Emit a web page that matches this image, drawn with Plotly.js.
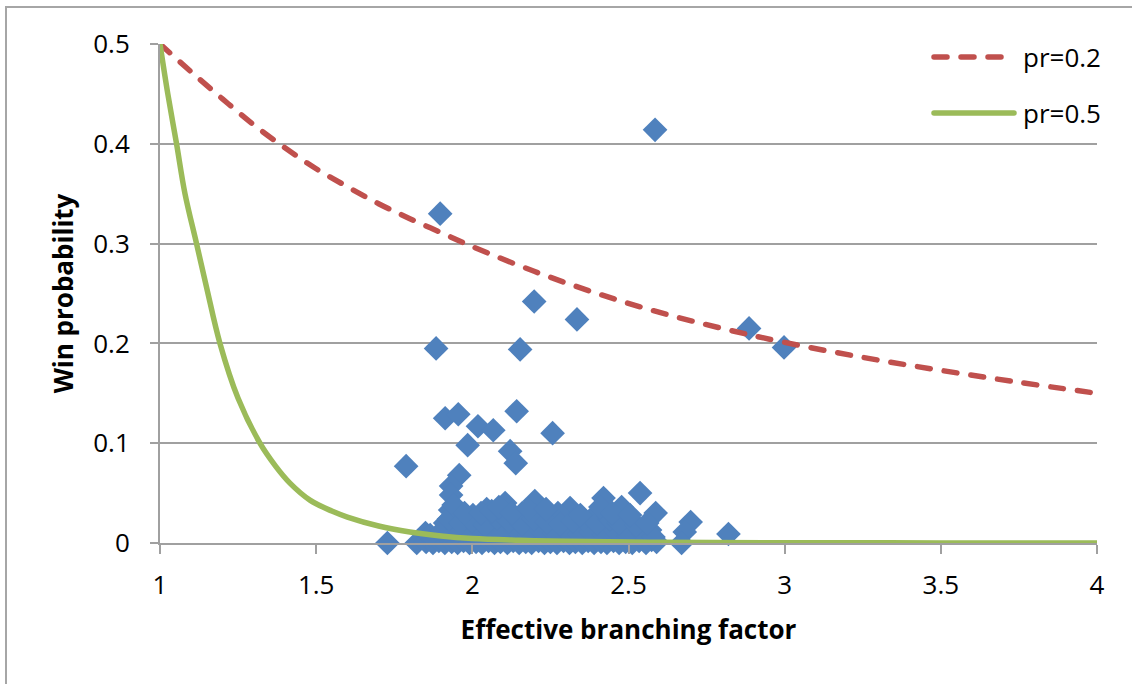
<!DOCTYPE html>
<html>
<head>
<meta charset="utf-8">
<script src="https://cdn.plot.ly/plotly-3.0.1.min.js"></script>
<style>
  html, body { margin: 0; padding: 0; background: #fff; }
  #wrap { position: relative; width: 1132px; height: 684px; overflow: hidden; }
  #frame { position: absolute; left: 5px; top: 6px; width: 1200px; height: 800px;
           border: 2px solid #a6a6a6; box-sizing: border-box; pointer-events: none; }
  #chart { position: absolute; left: 0; top: 0; width: 1132px; height: 684px; }
  .scatterlayer .js-line, .shapelayer path { stroke-linecap: round; }
</style>
</head>
<body>
<div id="wrap">
  <div id="chart"></div>
  <div id="frame"></div>
</div>
<script>
// Observed games: effective branching factor vs. win probability
const branching = [
  2.585, 1.897, 1.884, 2.198, 2.335, 2.886, 2.998, 2.153,
  1.913, 1.955, 2.142, 2.018, 2.067, 2.257, 1.985, 2.121, 2.139, 1.788,
  1.958, 1.932, 1.932, 1.929, 1.913,
  2.537, 2.420, 2.313, 2.478, 2.587, 2.699, 2.680, 2.820, 2.670,
  2.387, 2.366, 2.505, 2.569, 2.574, 2.105, 2.200, 2.306, 2.046, 2.002, 2.274, 2.160,
  1.728, 1.822, 1.852, 1.874, 1.893, 1.912, 1.934, 1.953, 1.972, 1.991,
  2.012, 2.031, 2.052, 2.071, 2.090, 2.112, 2.131, 2.150, 2.171, 2.190,
  2.212, 2.231, 2.250, 2.271, 2.292, 2.311, 2.330, 2.352, 2.371, 2.390,
  2.412, 2.431, 2.452, 2.470, 2.491, 2.512, 2.534, 2.556, 2.590,
  1.850, 1.865, 1.902, 1.944, 1.981, 2.021, 2.060, 2.098, 2.140, 2.180, 2.221,
  2.260, 2.300, 2.340, 2.380, 2.420, 2.460, 2.500, 2.545, 2.580,
  1.925, 1.962, 2.000, 2.040, 2.080, 2.118, 2.158, 2.198, 2.238, 2.282,
  2.322, 2.356, 2.400, 2.440, 2.470, 2.525, 2.560,
  1.940, 1.975, 2.028, 2.062, 2.085, 2.126, 2.180, 2.236, 2.346, 2.410, 2.448, 2.505
];
const winProb = [
  0.414, 0.330, 0.195, 0.242, 0.224, 0.215, 0.196, 0.194,
  0.125, 0.129, 0.132, 0.117, 0.113, 0.110, 0.098, 0.092, 0.080, 0.077,
  0.068, 0.057, 0.048, 0.033, 0.020,
  0.050, 0.045, 0.035, 0.036, 0.030, 0.021, 0.011, 0.009, 0.000,
  0.026, 0.016, 0.016, 0.013, 0.003, 0.040, 0.042, 0.031, 0.034, 0.028, 0.030, 0.030,
  0.000, 0.000, 0.001, 0.000, 0.002, 0.000, 0.001, 0.000, 0.002, 0.000,
  0.001, 0.000, 0.002, 0.000, 0.001, 0.000, 0.002, 0.000, 0.001, 0.000,
  0.002, 0.000, 0.001, 0.000, 0.002, 0.000, 0.001, 0.000, 0.002, 0.000,
  0.001, 0.000, 0.002, 0.000, 0.001, 0.000, 0.002, 0.000, 0.001,
  0.010, 0.008, 0.012, 0.010, 0.014, 0.008, 0.012, 0.009, 0.013, 0.008, 0.012,
  0.010, 0.013, 0.009, 0.011, 0.008, 0.012, 0.007, 0.009, 0.006,
  0.024, 0.020, 0.022, 0.018, 0.025, 0.022, 0.019, 0.024, 0.021, 0.019,
  0.022, 0.024, 0.020, 0.024, 0.020, 0.018, 0.020,
  0.038, 0.030, 0.030, 0.032, 0.036, 0.030, 0.034, 0.034, 0.028, 0.036, 0.030, 0.028
];

// Model curves for two values of pr
const curveB02 = [1.0, 1.1, 1.2, 1.3, 1.4, 1.5, 1.6, 1.7, 1.8, 1.9, 2.0, 2.2, 2.4, 2.6, 2.8, 3.0, 3.25, 3.5, 3.75, 4.0];
const curveP02 = [0.500, 0.472, 0.445, 0.419, 0.396, 0.375, 0.357, 0.340, 0.325, 0.311, 0.297, 0.272, 0.250, 0.231, 0.215, 0.201, 0.186, 0.173, 0.161, 0.150];

const curveB05 = [1.0, 1.025, 1.053, 1.08, 1.117, 1.15, 1.192, 1.25, 1.32, 1.37, 1.416, 1.48, 1.55, 1.6, 1.7, 1.8, 1.9, 2.0, 2.15, 2.3, 2.6, 3.0, 3.5, 4.0];
const curveP05 = [0.500, 0.450, 0.400, 0.350, 0.300, 0.255, 0.200, 0.145, 0.100, 0.077, 0.060, 0.043, 0.032, 0.026, 0.017, 0.011, 0.007, 0.0045, 0.0028, 0.0017, 0.0007, 0.0003, 0.0001, 0.0];

const seriesNames = ['pr=0.2', 'pr=0.5'];
const xTitle = 'Effective branching factor';
const yTitle = 'Win probability';

const FONT = '"Open Sans", "Liberation Sans", sans-serif';
const RED = '#C0504D', GREEN = '#9BBB59', BLUE = '#4F81BD', GRID = '#a0a0a0';

const traces = [
  {
    x: branching, y: winProb, type: 'scatter', mode: 'markers',
    marker: { symbol: 'diamond', size: 19, color: BLUE, line: { width: 0 } },
    cliponaxis: false, showlegend: false, hoverinfo: 'x+y'
  },
  {
    x: curveB02, y: curveP02, type: 'scatter', mode: 'lines', name: seriesNames[0],
    line: { color: RED, width: 5.5, dash: '13px,14px', shape: 'spline', smoothing: 1 },
    showlegend: false
  },
  {
    x: curveB05, y: curveP05, type: 'scatter', mode: 'lines', name: seriesNames[1],
    line: { color: GREEN, width: 5.5, shape: 'spline', smoothing: 1 },
    showlegend: false
  }
];

// Plot-area fractions used to place the legend keys
const W = 1132, H = 684, ML = 160, MR = 35, MT = 44, MB = 141;
const pw = W - ML - MR, ph = H - MT - MB;
const px = v => (v - ML) / pw;
const py = v => (H - MB - v) / ph;

const layout = {
  width: W, height: H,
  margin: { l: ML, r: MR, t: MT, b: MB, pad: 0 },
  paper_bgcolor: 'rgba(0,0,0,0)', plot_bgcolor: '#fff',
  font: { family: FONT, size: 26, color: '#000' },
  showlegend: false,
  xaxis: {
    range: [1, 4], tick0: 1, dtick: 0.5, showgrid: false, zeroline: false,
    showline: true, linecolor: GRID, linewidth: 2,
    ticks: 'outside', ticklen: 9, tickwidth: 2, tickcolor: GRID,
    ticklabelstandoff: 9,
    tickfont: { family: FONT, size: 26, color: '#000' },
    title: { text: xTitle, font: { family: FONT, size: 26, color: '#000', weight: 'bold' }, standoff: 20 }
  },
  yaxis: {
    range: [0, 0.5], tick0: 0, dtick: 0.1, showgrid: true, gridcolor: GRID, gridwidth: 2,
    zeroline: false, showline: true, linecolor: GRID, linewidth: 2,
    ticks: 'outside', ticklen: 8, tickwidth: 2, tickcolor: GRID,
    ticklabelstandoff: 15,
    tickfont: { family: FONT, size: 26, color: '#000' },
    title: { text: yTitle, font: { family: FONT, size: 26, color: '#000', weight: 'bold' }, standoff: 12 }
  },
  shapes: [
    { type: 'line', xref: 'paper', yref: 'paper', x0: px(934), x1: px(1003), y0: py(57), y1: py(57),
      line: { color: RED, width: 5.5, dash: '13px,14px' } },
    { type: 'line', xref: 'paper', yref: 'paper', x0: px(934), x1: px(1014), y0: py(113), y1: py(113),
      line: { color: GREEN, width: 5.5 } }
  ],
  annotations: [
    { xref: 'paper', yref: 'paper', x: px(1021), y: py(57), xanchor: 'left', yanchor: 'middle',
      text: seriesNames[0], showarrow: false, font: { family: FONT, size: 26, color: '#000' } },
    { xref: 'paper', yref: 'paper', x: px(1021), y: py(113), xanchor: 'left', yanchor: 'middle',
      text: seriesNames[1], showarrow: false, font: { family: FONT, size: 26, color: '#000' } }
  ]
};

Plotly.newPlot('chart', traces, layout, { staticPlot: true, displayModeBar: false });
</script>
</body>
</html>
